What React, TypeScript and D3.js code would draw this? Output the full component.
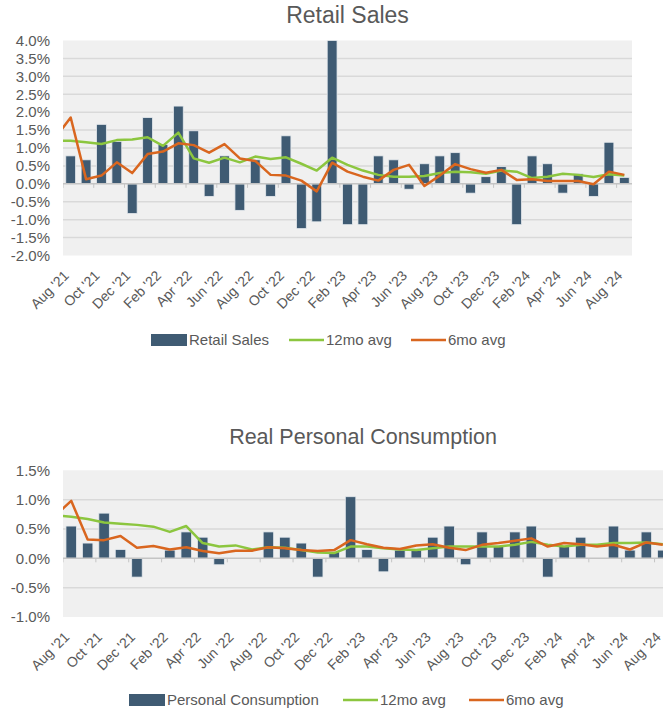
import React from 'react';
import * as d3 from 'd3';

// Aug '21 .. Aug '24, one entry per month
const months = [
  "Aug '21", "Sep '21", "Oct '21", "Nov '21", "Dec '21", "Jan '22", "Feb '22", "Mar '22",
  "Apr '22", "May '22", "Jun '22", "Jul '22", "Aug '22", "Sep '22", "Oct '22", "Nov '22",
  "Dec '22", "Jan '23", "Feb '23", "Mar '23", "Apr '23", "May '23", "Jun '23", "Jul '23",
  "Aug '23", "Sep '23", "Oct '23", "Nov '23", "Dec '23", "Jan '24", "Feb '24", "Mar '24",
  "Apr '24", "May '24", "Jun '24", "Jul '24", "Aug '24",
];

const retailSales = [
  0.78, 0.67, 1.66, 1.18, -0.83, 1.85, 1.1, 2.17, 1.48, -0.35, 0.78, -0.74, 0.67, -0.35,
  1.34, -1.25, -1.06, 4.0, -1.14, -1.14, 0.78, 0.67, -0.15, 0.56, 0.78, 0.87, -0.26, 0.2,
  0.48, -1.14, 0.78, 0.56, -0.26, 0.28, -0.35, 1.16, 0.18,
];
// moving averages start one month earlier (Jul '21), just off the left edge
const retail12mo = [
  1.2, 1.2, 1.16, 1.11, 1.22, 1.24, 1.3, 1.06, 1.43, 0.71, 0.59, 0.73, 0.6, 0.76, 0.69,
  0.74, 0.56, 0.37, 0.73, 0.53, 0.37, 0.25, 0.2, 0.2, 0.22, 0.3, 0.34, 0.32, 0.28, 0.37,
  0.34, 0.16, 0.2, 0.28, 0.25, 0.19, 0.27, 0.23,
];
const retail6mo = [
  1.29, 1.85, 0.13, 0.23, 0.6, 0.3, 0.83, 0.9, 1.13, 1.08, 0.87, 1.11, 0.71, 0.64, 0.25,
  0.23, 0.09, -0.21, 0.59, 0.34, 0.2, 0.09, 0.39, 0.53, -0.06, 0.23, 0.55, 0.41, 0.31,
  0.39, 0.11, 0.13, 0.08, 0.08, 0.08, -0.01, 0.34, 0.25,
];

const consumption = [
  0.55, 0.26, 0.77, 0.15, -0.32, 0.0, 0.14, 0.45, 0.36, -0.11, 0.0, 0.0, 0.45, 0.36, 0.26,
  -0.32, 0.11, 1.05, 0.15, -0.23, 0.14, 0.14, 0.36, 0.55, -0.11, 0.45, 0.2, 0.45, 0.55,
  -0.32, 0.2, 0.36, 0.0, 0.55, 0.14, 0.45, 0.14,
];
const consumption12mo = [
  0.73, 0.71, 0.67, 0.61, 0.59, 0.57, 0.54, 0.45, 0.55, 0.26, 0.2, 0.22, 0.15, 0.19, 0.18,
  0.14, 0.1, 0.09, 0.2, 0.2, 0.17, 0.15, 0.14, 0.17, 0.2, 0.2, 0.2, 0.2, 0.23, 0.28, 0.23,
  0.2, 0.23, 0.23, 0.26, 0.26, 0.27, 0.24,
];
const consumption6mo = [
  0.72, 0.98, 0.32, 0.31, 0.38, 0.18, 0.21, 0.15, 0.19, 0.125, 0.085, 0.13, 0.13, 0.19,
  0.17, 0.14, 0.125, 0.14, 0.31, 0.24, 0.18, 0.16, 0.22, 0.24, 0.18, 0.14, 0.23, 0.26, 0.3,
  0.34, 0.2, 0.26, 0.24, 0.2, 0.23, 0.15, 0.27, 0.23,
];

const retailTicks = [-2, -1.5, -1, -0.5, 0, 0.5, 1, 1.5, 2, 2.5, 3, 3.5, 4];
const consumptionTicks = [-1, -0.5, 0, 0.5, 1, 1.5];

const FONT = '"Liberation Sans", Arial, sans-serif';
const TEXT = '#595959';
const BAR = '#3f5b73';
const GREEN = '#8cc63f';
const ORANGE = '#d9661f';

type ChartProps = {
  id: string;
  title: string;
  titleY: number;
  titleSize: number;
  barName: string;
  bars: number[];
  avg12: number[];
  avg6: number[];
  ticks: number[];
  left: number;
  right: number;
  top: number;
  bottom: number;
  legendY: number;
  legendX: number[];
};

function Chart(p: ChartProps) {
  const x = d3.scaleLinear().domain([-0.5, months.length - 0.5]).range([p.left, p.right]);
  const y = d3
    .scaleLinear()
    .domain([p.ticks[0], p.ticks[p.ticks.length - 1]])
    .range([p.bottom, p.top]);
  const band = x(1) - x(0);
  const barW = band * 0.64;

  // averages carry one extra leading month
  const line = d3
    .line<number>()
    .x((_, i) => x(i - 1))
    .y((d) => y(d));

  const mid = (p.left + Math.min(p.right, 663)) / 2;
  const [rx, gx, ox] = p.legendX;

  return (
    <g fontFamily={FONT}>
      <text x={mid} y={p.titleY} textAnchor="middle" fontSize={p.titleSize} fill={TEXT}>
        {p.title}
      </text>
      <defs>
        <clipPath id={p.id + '-clip'}>
          <rect x={p.left} y={p.top - 2} width={p.right - p.left} height={p.bottom - p.top + 4} />
        </clipPath>
      </defs>
      <rect x={p.left} y={p.top} width={p.right - p.left} height={p.bottom - p.top} fill="#f0f0f0" />
      {p.ticks.slice(1, -1).filter((t) => t !== 0).map((t) => (
        <line key={t} x1={p.left} x2={p.right} y1={y(t)} y2={y(t)} stroke="#d9d9d9" strokeWidth={1.5} />
      ))}
      {p.ticks.map((t) => (
        <text key={t} x={50} y={y(t)} dy="0.35em" textAnchor="end" fontSize={15} fill={TEXT}>
          {t.toFixed(1) + '%'}
        </text>
      ))}
      <g clipPath={`url(#${p.id}-clip)`}>
        {p.bars.map((v, i) => (
          <rect
            key={i}
            x={x(i) - barW / 2}
            y={y(Math.max(0, v))}
            width={barW}
            height={Math.abs(y(v) - y(0))}
            fill={BAR}
            stroke="#e6eaee"
            strokeWidth={0.8}
          />
        ))}
        <line x1={p.left} x2={p.right} y1={y(0)} y2={y(0)} stroke="#c4c4c4" strokeWidth={1.5} />
        {months.map((_, i) =>
          i % 2 === 0 ? (
            <line key={i} x1={x(i - 0.5)} x2={x(i - 0.5)} y1={y(0)} y2={y(0) + 4} stroke="#c4c4c4" strokeWidth={1} />
          ) : null
        )}
        <path d={line(p.avg12) || ''} fill="none" stroke={GREEN} strokeWidth={2.5} strokeLinejoin="round" />
        <path d={line(p.avg6) || ''} fill="none" stroke={ORANGE} strokeWidth={2.5} strokeLinejoin="round" />
      </g>
      {months.map((m, i) =>
        i % 2 === 0 ? (
          <text
            key={m}
            transform={`translate(${x(i) - 1},${p.bottom + 21}) rotate(-45)`}
            textAnchor="end"
            fontSize={14}
            fill={TEXT}
          >
            {m}
          </text>
        ) : null
      )}
      <g fontSize={15} fill={TEXT}>
        <rect x={rx} y={p.legendY - 6} width={36} height={12} fill={BAR} />
        <text x={rx + 38} y={p.legendY} dy="0.35em">{p.barName}</text>
        <line x1={gx} x2={gx + 35} y1={p.legendY} y2={p.legendY} stroke={GREEN} strokeWidth={2.5} />
        <text x={gx + 37} y={p.legendY} dy="0.35em">12mo avg</text>
        <line x1={ox} x2={ox + 35} y1={p.legendY} y2={p.legendY} stroke={ORANGE} strokeWidth={2.5} />
        <text x={ox + 37} y={p.legendY} dy="0.35em">6mo avg</text>
      </g>
    </g>
  );
}

export default function App() {
  return (
    <div style={{ position: 'absolute', left: 0, top: 0, width: 663, height: 710, overflow: 'hidden', background: '#fff' }}>
      <svg width={663} height={710}>
        <Chart
          id="retail"
          title="Retail Sales"
          titleY={23}
          titleSize={23}
          barName="Retail Sales"
          bars={retailSales}
          avg12={retail12mo}
          avg6={retail6mo}
          ticks={retailTicks}
          left={63}
          right={632}
          top={40.5}
          bottom={255.5}
          legendY={340}
          legendX={[151, 289, 411]}
        />
        <Chart
          id="pce"
          title="Real Personal Consumption"
          titleY={444}
          titleSize={21.5}
          barName="Personal Consumption"
          bars={consumption}
          avg12={consumption12mo}
          avg6={consumption6mo}
          ticks={consumptionTicks}
          left={63}
          right={671}
          top={470.3}
          bottom={617}
          legendY={700}
          legendX={[129, 343, 469]}
        />
      </svg>
    </div>
  );
}
